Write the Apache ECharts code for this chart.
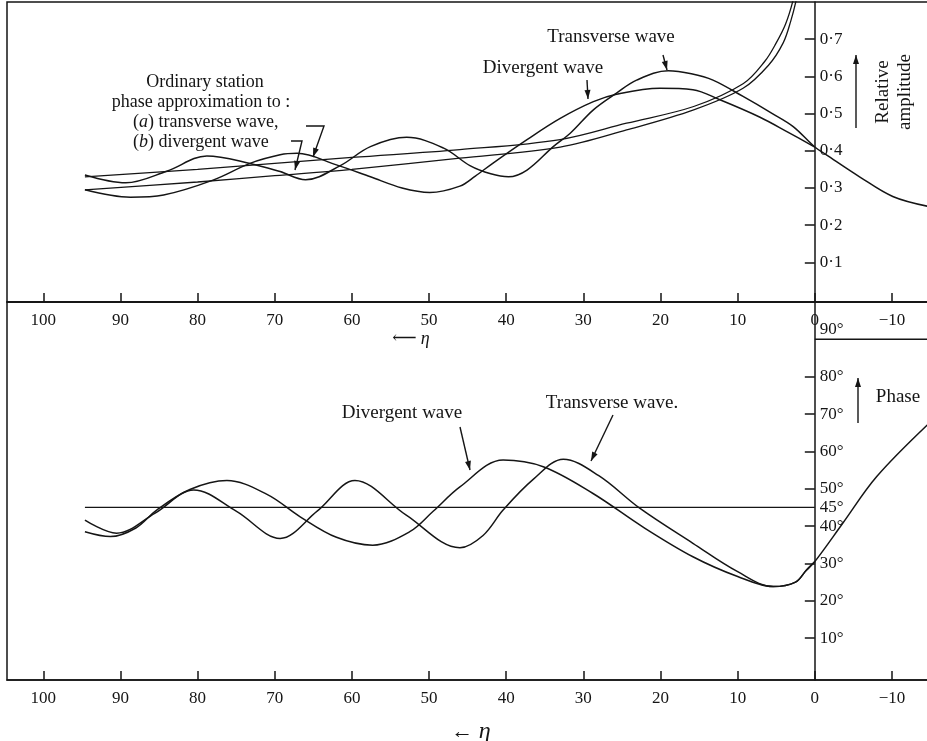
<!DOCTYPE html>
<html>
<head>
<meta charset="utf-8">
<script src="https://cdn.jsdelivr.net/npm/echarts@6/dist/echarts.min.js"></script>
<style>
  html, body { margin: 0; padding: 0; background: #fff; }
  #chart { width: 927px; height: 741px; }
</style>
</head>
<body>
<div id="chart"></div>
<script>
// eta ticks shared by both panels
const etaTicks = [100, 90, 80, 70, 60, 50, 40, 30, 20, 10, 0, -10];
const ampTicks = [0.1, 0.2, 0.3, 0.4, 0.5, 0.6, 0.7];
const phaseTicks = [10, 20, 30, 40, 50, 60, 70, 80];
const phaseLabels = [10, 20, 30, 40, 45, 50, 60, 70, 80, 90];

// relative amplitude (upper panel)
const etaAmpTransverse = [94.6, 89.3, 84, 78.8, 73.2, 69.3, 66, 61.5, 57.6, 52.9, 48.1, 44.7, 42, 39.7, 37.3, 33.9, 31.7, 28.7, 25.7, 23.1, 19, 16, 13.2, 9.3, 5.5, 2.8, 0, -1.5, -5.8, -10.1, -14.8];
const ampTransverse = [0.335, 0.314, 0.345, 0.386, 0.366, 0.344, 0.322, 0.36, 0.411, 0.436, 0.407, 0.36, 0.338, 0.33, 0.348, 0.411, 0.447, 0.51, 0.555, 0.59, 0.615, 0.607, 0.59, 0.546, 0.5, 0.465, 0.41, 0.389, 0.33, 0.277, 0.25];

const etaAmpDivergent = [94.6, 88.7, 84.4, 78, 73.2, 69.3, 67.1, 62, 57.6, 53.5, 49.9, 46, 44, 41.7, 37.3, 33, 28.7, 25.7, 20.1, 15.8, 12.3, 7.1, 3.5, 0];
const ampDivergent = [0.295, 0.275, 0.281, 0.321, 0.366, 0.389, 0.393, 0.362, 0.33, 0.3, 0.288, 0.305, 0.332, 0.367, 0.43, 0.487, 0.532, 0.552, 0.568, 0.564, 0.537, 0.49, 0.45, 0.41];

const etaApproxTransverse = [94.6, 80, 70, 60, 46, 33, 24.4, 15.7, 9.3, 6.5, 5, 3.8, 2.8, 2.3];
const ampApproxTransverse = [0.33, 0.35, 0.366, 0.382, 0.403, 0.43, 0.474, 0.519, 0.58, 0.64, 0.69, 0.74, 0.806, 0.86];

const etaApproxDivergent = [94.6, 80, 70, 60, 46, 33, 24.4, 15.7, 9.3, 6, 4.1, 3.1, 2.4, 1.9];
const ampApproxDivergent = [0.295, 0.316, 0.333, 0.35, 0.38, 0.41, 0.456, 0.51, 0.568, 0.63, 0.69, 0.75, 0.806, 0.86];

// phase in degrees (lower panel)
const etaPhaseTransverse = [94.6, 90.5, 85.5, 80.5, 75, 69.3, 64.5, 59.6, 53, 46, 43, 40.4, 36.5, 32.6, 28, 22.7, 15.8, 10, 5.4, 2.5, 1.1, 0, -3.6, -8, -14.8];
const phaseTransverse = [41.6, 38.1, 43.5, 49.7, 44, 36.7, 44, 52.2, 43, 34.2, 37.5, 44.3, 52.5, 57.9, 53.5, 44.8, 35.4, 27.8, 23.8, 25, 28.2, 30.5, 40.7, 53.2, 67.5];

const etaPhaseDivergent = [94.6, 91.3, 88, 85.3, 81, 76.2, 71, 66.7, 62, 57.3, 52.5, 49.5, 46, 40.4, 35.2, 28.8, 22.3, 15.8, 10, 5.4, 2.5, 1.1, 0];
const phaseDivergent = [38.5, 37.2, 39.5, 44.3, 49.8, 52.2, 48.5, 42.5, 37, 34.9, 38.5, 43.9, 50.5, 57.7, 55.9, 48.8, 39.8, 31.8, 26.5, 23.8, 25, 28.2, 30.5];

const etaPhaseStation = [94.6, 0];
const phaseStation = [45, 45];
const etaPhaseTop = [0, -14.8];
const phaseTop = [90, 90];

const ink = '#151515';
const serif = '"Liberation Serif", "DejaVu Serif", serif';

const zip = (xs, ys) => xs.map((x, i) => [x, ys[i]]);

function curve(xs, ys, grid, width) {
  return {
    type: 'line',
    xAxisIndex: grid,
    yAxisIndex: grid,
    data: zip(xs, ys),
    smooth: 0.35,
    showSymbol: false,
    silent: true,
    lineStyle: { color: ink, width: width || 1.5 }
  };
}

function arrow(pts) {
  const n = pts.length;
  const [x1, y1] = pts[n - 2];
  const [x2, y2] = pts[n - 1];
  const a = Math.atan2(y2 - y1, x2 - x1);
  const L = 9, W = 3;
  const c = Math.cos(a), s = Math.sin(a);
  return [
    { type: 'polyline', shape: { points: pts }, style: { stroke: ink, lineWidth: 1.4, fill: null } },
    { type: 'polygon', shape: { points: [[x2, y2], [x2 - L * c + W * s, y2 - L * s - W * c], [x2 - L * c - W * s, y2 - L * s + W * c]] }, style: { fill: ink } }
  ];
}

function label(text, x, y, size, align, extra) {
  return Object.assign({
    type: 'text', x: x, y: y,
    style: {
      text: text, fill: ink, font: size + 'px ' + serif,
      textAlign: align || 'center', textVerticalAlign: 'middle'
    }
  }, extra || {});
}

function richLabel(text, x, y, size, align, rich) {
  return {
    type: 'text', x: x, y: y,
    style: {
      text: text, fill: ink, font: size + 'px ' + serif,
      textAlign: align, textVerticalAlign: 'middle', rich: rich
    }
  };
}

const italicRich = { i: { fontStyle: 'italic', fontSize: 18, fontFamily: serif, fill: ink } };

const xMin = -14.8, xMax = 104.7;
const gridLeft = 7, gridRight = -2;
// the y axes sit at eta = 0 inside the grid
const yOffset = -(927 - gridRight - gridLeft) * (0 - xMin) / (xMax - xMin);

const xAxisBase = {
  type: 'value',
  inverse: true,
  min: xMin,
  max: xMax,
  axisLine: { onZero: false, lineStyle: { color: ink, width: 1.5 } },
  axisTick: { customValues: etaTicks, inside: true, length: 9, lineStyle: { color: ink, width: 1.5 } },
  axisLabel: {
    customValues: etaTicks, color: ink, fontSize: 17, fontFamily: serif, margin: 10,
    formatter: v => v < 0 ? '−' + Math.abs(v) : String(v)
  },
  splitLine: { show: false }
};

const chart = echarts.init(document.getElementById('chart'));
chart.setOption({
  backgroundColor: '#fff',
  animation: false,
  grid: [
    { left: gridLeft, right: gridRight, top: 2, height: 300, show: true, borderColor: ink, borderWidth: 1.5, containLabel: false, outerBoundsMode: 'none' },
    { left: gridLeft, right: gridRight, top: 302, height: 378, show: true, borderColor: ink, borderWidth: 1.5, containLabel: false, outerBoundsMode: 'none' }
  ],
  xAxis: [
    Object.assign({ gridIndex: 0 }, xAxisBase),
    Object.assign({ gridIndex: 1 }, xAxisBase)
  ],
  yAxis: [
    {
      gridIndex: 0, type: 'value', position: 'right', offset: yOffset,
      min: -0.0067, max: 0.8,
      axisLine: { onZero: false, lineStyle: { color: ink, width: 1.5 } },
      axisTick: { customValues: ampTicks, inside: true, length: 10, lineStyle: { color: ink, width: 1.5 } },
      axisLabel: {
        customValues: ampTicks, color: ink, fontSize: 17, fontFamily: serif, margin: 5,
        formatter: v => '0·' + Math.round(v * 10)
      },
      splitLine: { show: false }
    },
    {
      gridIndex: 1, type: 'value', position: 'right', offset: yOffset,
      min: -1.2, max: 100,
      axisLine: { onZero: false, lineStyle: { color: ink, width: 1.5 } },
      axisTick: { customValues: phaseTicks, inside: true, length: 10, lineStyle: { color: ink, width: 1.5 } },
      axisLabel: {
        customValues: phaseLabels, color: ink, fontSize: 17, fontFamily: serif, margin: 5,
        formatter: v => v === 90 ? '{up|90°}' : v + '°',
        rich: { up: { fontSize: 17, fontFamily: serif, color: ink, padding: [0, 0, 20, 0] } }
      },
      splitLine: { show: false }
    }
  ],
  series: [
    curve(etaAmpTransverse, ampTransverse, 0),
    curve(etaAmpDivergent, ampDivergent, 0),
    curve(etaApproxTransverse, ampApproxTransverse, 0, 1.3),
    curve(etaApproxDivergent, ampApproxDivergent, 0, 1.3),
    curve(etaPhaseTransverse, phaseTransverse, 1),
    curve(etaPhaseDivergent, phaseDivergent, 1),
    curve(etaPhaseStation, phaseStation, 1, 1.3),
    curve(etaPhaseTop, phaseTop, 1, 1.5)
  ],
  graphic: [
    // upper panel notes
    label('Ordinary station', 205, 82, 18),
    label('phase approximation to :', 201, 102, 18),
    richLabel('({i|a}) transverse wave,', 133, 122, 18, 'left', italicRich),
    richLabel('({i|b}) divergent wave', 133, 142, 18, 'left', italicRich),
    ...arrow([[306, 126], [324, 126], [313, 157]]),
    ...arrow([[291, 141], [302, 141], [295, 170]]),
    label('Transverse wave', 611, 37, 19),
    ...arrow([[663, 55], [667, 70]]),
    label('Divergent wave', 543, 68, 19),
    ...arrow([[587, 80], [588, 99]]),
    label('Relative', 883, 92, 19, 'center', { rotation: Math.PI / 2 }),
    label('amplitude', 905, 92, 19, 'center', { rotation: Math.PI / 2 }),
    ...arrow([[856, 128], [856, 55]]),
    richLabel('⟵ {i|η}', 411, 339, 17, 'center', italicRich),
    // lower panel notes
    label('Divergent wave', 402, 413, 19),
    ...arrow([[460, 427], [470, 470]]),
    label('Transverse wave.', 612, 403, 19),
    ...arrow([[613, 415], [591, 461]]),
    label('Phase', 898, 397, 19),
    ...arrow([[858, 423], [858, 378]]),
    richLabel('← {j|η}', 471, 732, 22, 'center', { j: { fontStyle: 'italic', fontSize: 24, fontFamily: serif, fill: ink } })
  ]
});
</script>
</body>
</html>
